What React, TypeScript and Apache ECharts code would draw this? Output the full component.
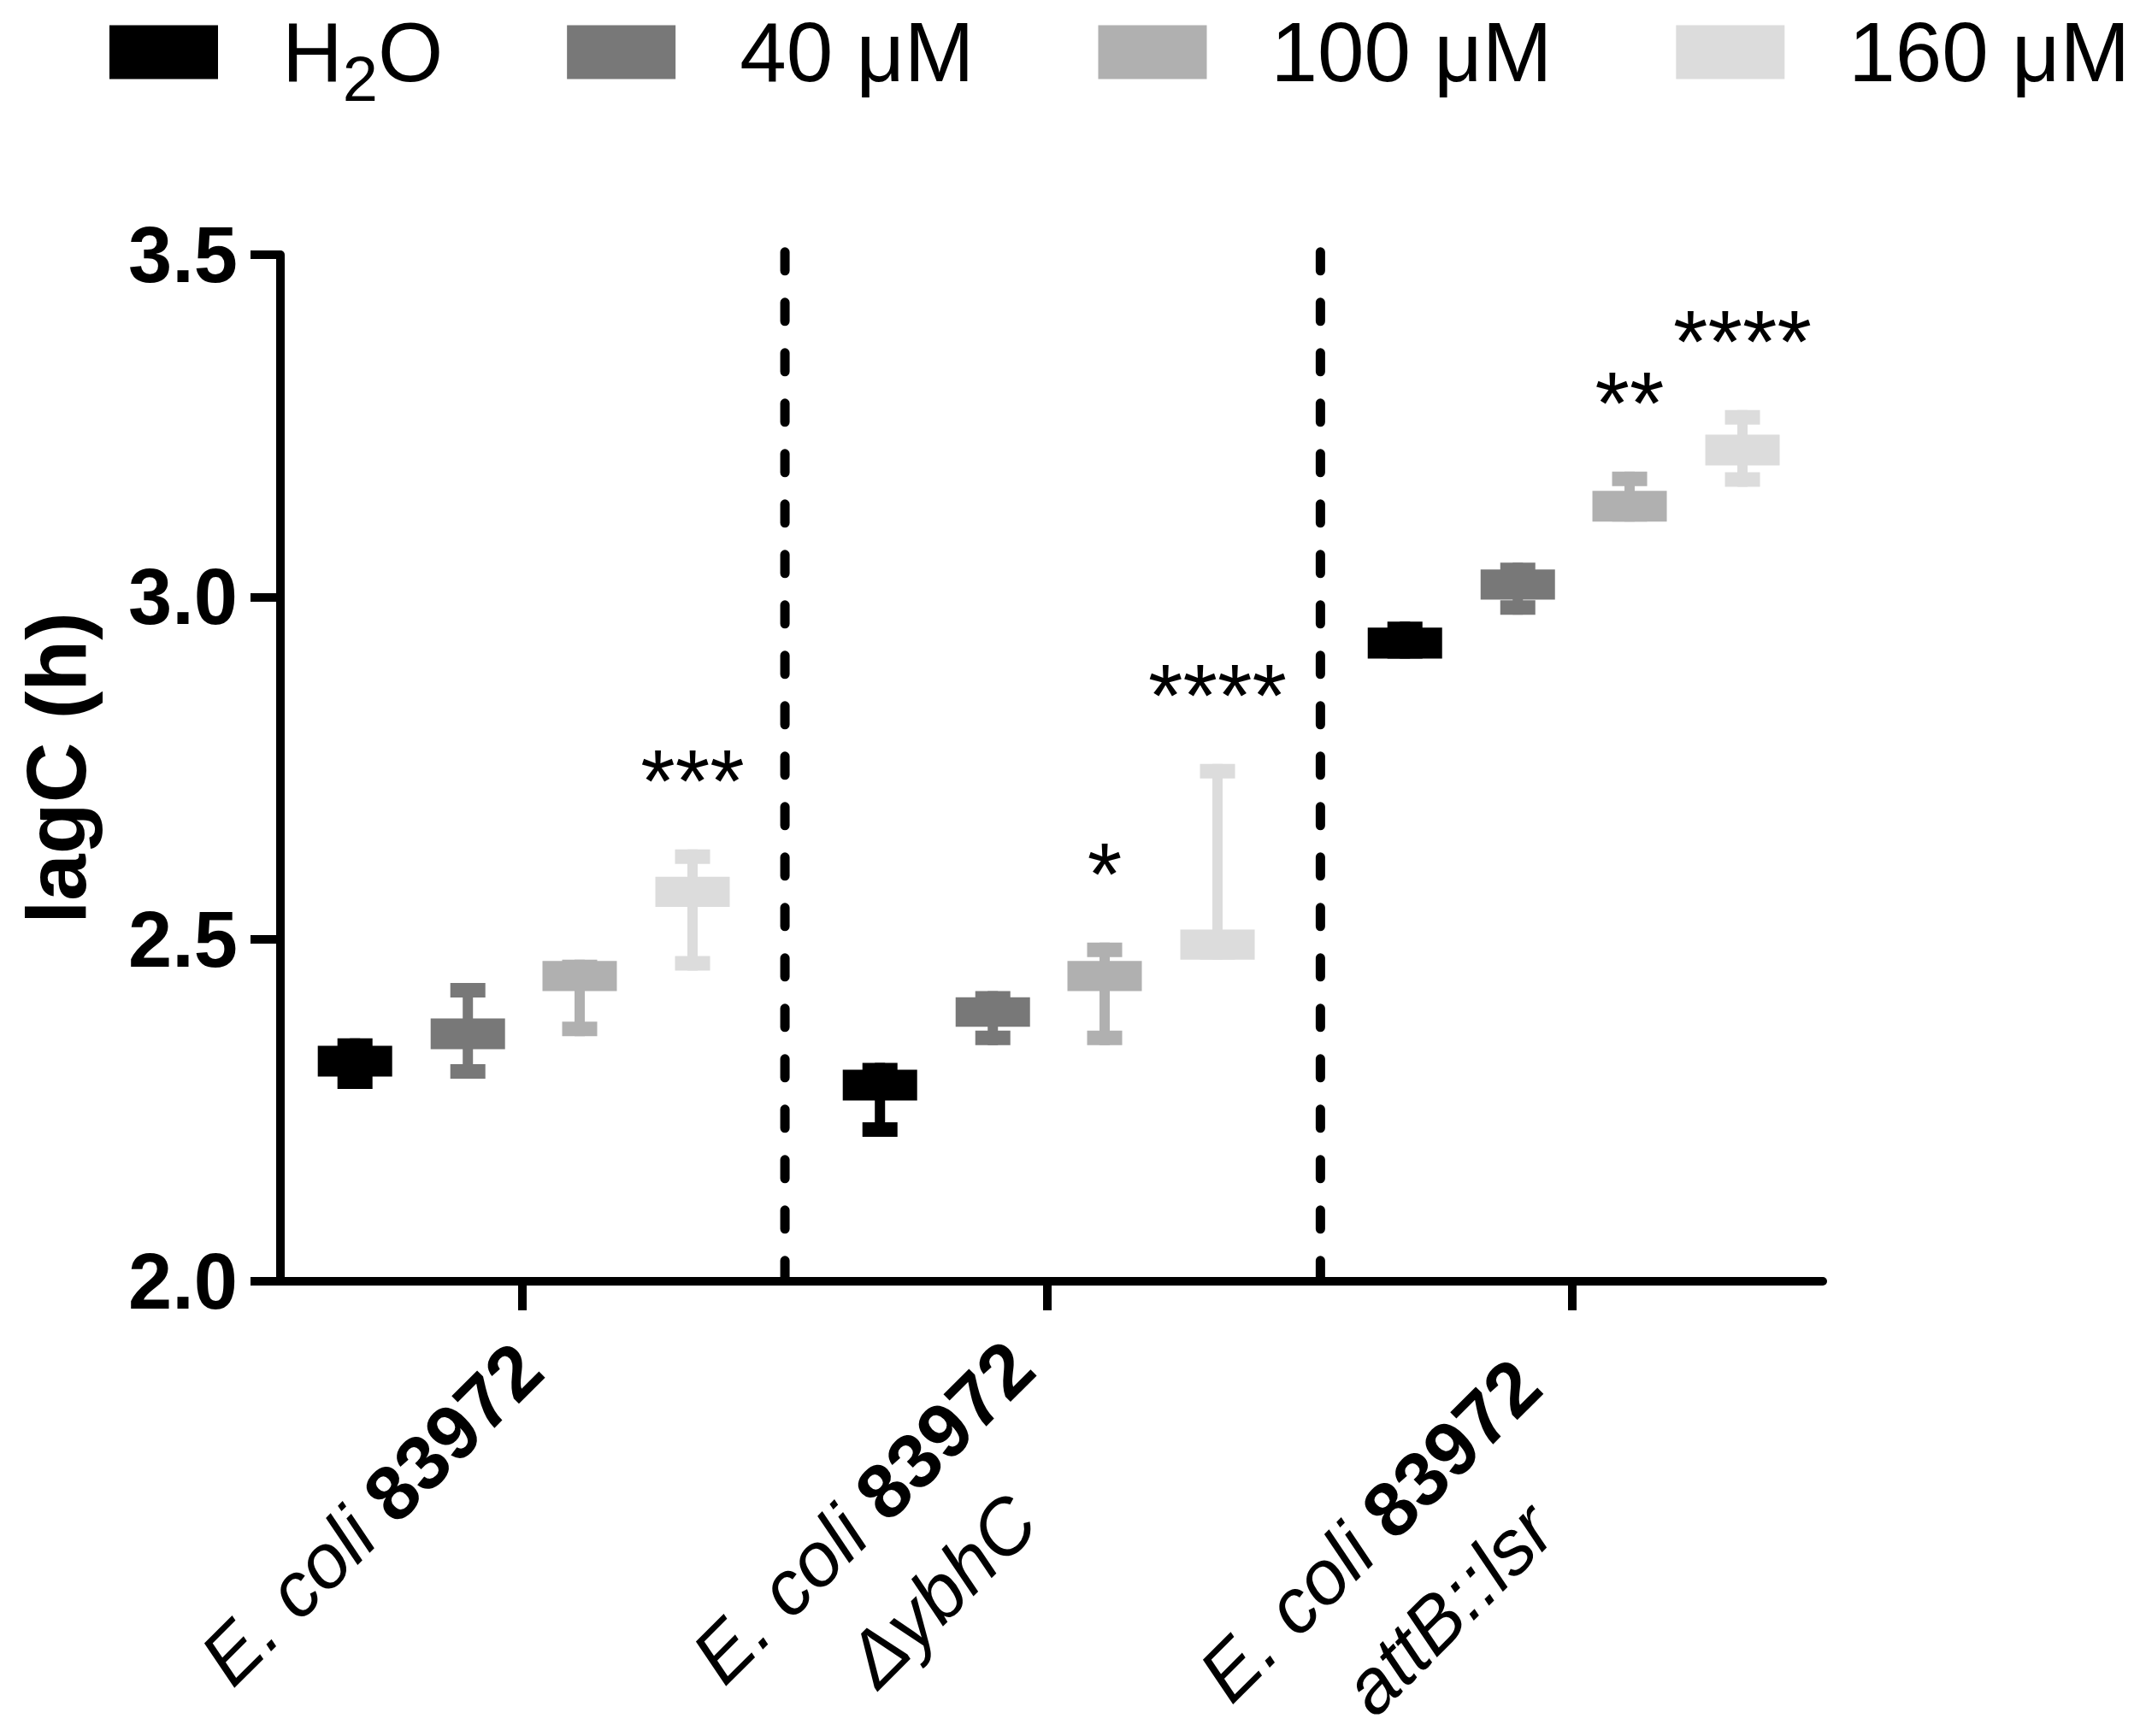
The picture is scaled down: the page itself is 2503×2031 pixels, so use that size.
import React, { useEffect, useRef } from 'react';
import * as echarts from 'echarts';

const FONT = '"Liberation Sans", Arial, Helvetica, sans-serif';

// Category labels (x axis)
const CATEGORY_ITALIC = ['E. coli', 'E. coli', 'E. coli'];
const CATEGORY_BOLD = ['83972', '83972', '83972'];
const CATEGORY_LINE2 = ['', 'ΔybhC', 'attB::lsr'];
const GROUP_POS = [0, 1, 2];
const SEPARATORS = [0.5, 1.52];

// Series
const SERIES_NAMES = ['H2O', '40 μM', '100 μM', '160 μM'];
const COLORS = ['#000000', '#787878', '#b0b0b0', '#dcdcdc'];
const OFFSETS = [-0.319, -0.104, 0.109, 0.324];

// [min, box low, box high, max] for each group
const H2O_VALUES = [
  [2.281, 2.299, 2.344, 2.355],
  [2.211, 2.264, 2.309, 2.319],
  [2.91, 2.91, 2.955, 2.964],
];
const UM40_VALUES = [
  [2.296, 2.339, 2.384, 2.436],
  [2.345, 2.372, 2.415, 2.424],
  [2.974, 2.996, 3.04, 3.05],
];
const UM100_VALUES = [
  [2.358, 2.424, 2.468, 2.47],
  [2.345, 2.424, 2.468, 2.495],
  [3.11, 3.11, 3.155, 3.183],
];
const UM160_VALUES = [
  [2.454, 2.547, 2.591, 2.631],
  [2.47, 2.47, 2.514, 2.756],
  [3.161, 3.192, 3.237, 3.273],
];
const SERIES_VALUES = [H2O_VALUES, UM40_VALUES, UM100_VALUES, UM160_VALUES];

// Significance marks
const H2O_STARS = ['', '', ''];
const UM40_STARS = ['', '', ''];
const UM100_STARS = ['', '*', '**'];
const UM160_STARS = ['***', '****', '****'];
const SERIES_STARS = [H2O_STARS, UM40_STARS, UM100_STARS, UM160_STARS];

// Y axis
const Y_MIN = 2;
const Y_MAX = 3.5;
const Y_STEP = 0.5;

// Mark geometry (pixels)
const BOX_W = 87;
const CAP_W = 41;
const CAP_H = 17;
const STEM_W = 12;

// Label layout per category: [line-1 bottom padding, backward shift, line-2 top padding]
const LABEL_LAYOUT = [
  [40, 0, 0],
  [98, 26, 42],
  [98, 56, 42],
];

function makeRenderItem(sIdx: number) {
  return (params: any, api: any) => {
    const x = api.value(0);
    const p = api.coord([x, api.value(1)]);
    const cx = p[0];
    const yLo = p[1];
    const yQ1 = api.coord([x, api.value(2)])[1];
    const yQ3 = api.coord([x, api.value(3)])[1];
    const yHi = api.coord([x, api.value(4)])[1];
    const color = COLORS[sIdx];
    const children: any[] = [
      { type: 'rect', shape: { x: cx - STEM_W / 2, y: yHi, width: STEM_W, height: yLo - yHi }, style: { fill: color } },
      { type: 'rect', shape: { x: cx - CAP_W / 2, y: yHi, width: CAP_W, height: CAP_H }, style: { fill: color } },
      { type: 'rect', shape: { x: cx - CAP_W / 2, y: yLo - CAP_H, width: CAP_W, height: CAP_H }, style: { fill: color } },
      { type: 'rect', shape: { x: cx - BOX_W / 2, y: yQ3, width: BOX_W, height: yQ1 - yQ3 }, style: { fill: color } },
    ];
    const star = SERIES_STARS[sIdx][params.dataIndex];
    if (star) {
      children.push({
        type: 'text',
        x: cx,
        y: yHi - 80,
        style: {
          text: star,
          fontSize: 104,
          fontFamily: FONT,
          fill: '#000000',
          align: 'center',
          verticalAlign: 'middle',
        },
      });
    }
    return { type: 'group', children };
  };
}

function buildLabelRich() {
  const rich: any = {};
  LABEL_LAYOUT.forEach(([pb, back, p2], k) => {
    const base = { fontSize: 90, fontFamily: FONT, color: '#000000', lineHeight: 60, align: 'center' };
    rich['i' + k] = { ...base, fontStyle: 'italic', padding: [0, 0, pb, 0] };
    rich['b' + k] = { ...base, fontWeight: 'bold', padding: [0, back, pb, 0] };
    rich['l' + k] = { ...base, fontStyle: 'italic', padding: [p2, back, 0, 0] };
  });
  return rich;
}

export default function App() {
  const ref = useRef<HTMLDivElement>(null);

  useEffect(() => {
    if (!ref.current) return;
    const chart = echarts.init(ref.current, null, { renderer: 'svg' });

    const boxSeries = SERIES_NAMES.map((name, s) => ({
      name,
      type: 'custom',
      clip: false,
      itemStyle: { color: COLORS[s] },
      encode: { x: 0, y: [1, 2, 3, 4] },
      data: GROUP_POS.map((g, i) => [g + OFFSETS[s], ...SERIES_VALUES[s][i]]),
      renderItem: makeRenderItem(s),
      z: 3,
    }));

    const sepSeries = SEPARATORS.map((sx, k) => ({
      name: 'sep' + k,
      type: 'line',
      clip: false,
      silent: true,
      symbol: 'none',
      data: [
        [sx, 3.504],
        [sx, Y_MIN],
      ],
      lineStyle: { color: '#000000', width: 11, type: [22, 37], cap: 'round' },
      z: 2,
    }));

    const option: any = {
      animation: false,
      backgroundColor: '#ffffff',
      textStyle: { fontFamily: FONT },
      grid: {
        left: 328,
        right: 371,
        top: 298,
        bottom: 532,
        containLabel: false,
        outerBoundsMode: 'none',
      },
      legend: {
        data: SERIES_NAMES.map((name, s) => ({
          name,
          icon: 'rect',
          itemStyle: { color: COLORS[s], borderWidth: 0 },
        })),
        selectedMode: false,
        left: 128,
        top: 12,
        padding: 0,
        itemWidth: 127,
        itemHeight: 63,
        itemGap: 145,
        formatter: (n: string) => (n === 'H2O' ? 'H{sub|2}O' : n),
        textStyle: {
          fontSize: 98,
          fontFamily: FONT,
          color: '#000000',
          padding: [0, 0, 0, 70],
          rich: {
            sub: { fontSize: 74, fontFamily: FONT, color: '#000000', padding: [62, 0, 0, 0] },
          },
        },
      },
      xAxis: {
        type: 'value',
        min: -0.461,
        max: 2.477,
        splitLine: { show: false },
        axisLine: { show: true, onZero: false, lineStyle: { color: '#000000', width: 10 } },
        axisTick: {
          show: true,
          customValues: GROUP_POS,
          length: 34,
          lineStyle: { color: '#000000', width: 10 },
        },
        axisLabel: {
          show: true,
          customValues: GROUP_POS,
          rotate: 45,
          align: 'right',
          verticalAlign: 'top',
          margin: 81,
          formatter: (v: number) => {
            const i = Math.round(v);
            let s = `{i${i}|${CATEGORY_ITALIC[i]} }{b${i}|${CATEGORY_BOLD[i]}}`;
            if (CATEGORY_LINE2[i]) s += `\n{l${i}|${CATEGORY_LINE2[i]}}`;
            return s;
          },
          rich: buildLabelRich(),
        },
      },
      yAxis: {
        type: 'value',
        min: Y_MIN,
        max: Y_MAX,
        interval: Y_STEP,
        name: 'lagC (h)',
        nameLocation: 'middle',
        nameGap: 213,
        nameTextStyle: { fontSize: 98, fontWeight: 'bold', fontFamily: FONT, color: '#000000' },
        splitLine: { show: false },
        axisLine: { show: true, onZero: false, lineStyle: { color: '#000000', width: 10 } },
        axisTick: { show: true, length: 35, lineStyle: { color: '#000000', width: 10 } },
        axisLabel: {
          fontSize: 92,
          fontWeight: 'bold',
          fontFamily: FONT,
          color: '#000000',
          margin: 50,
          formatter: (v: number) => v.toFixed(1),
        },
      },
      series: [...sepSeries, ...boxSeries],
    };

    chart.setOption(option);
    return () => chart.dispose();
  }, []);

  return (
    <div
      ref={ref}
      style={{ position: 'fixed', left: 0, top: 0, width: 2503, height: 2031, background: '#ffffff' }}
    />
  );
}
